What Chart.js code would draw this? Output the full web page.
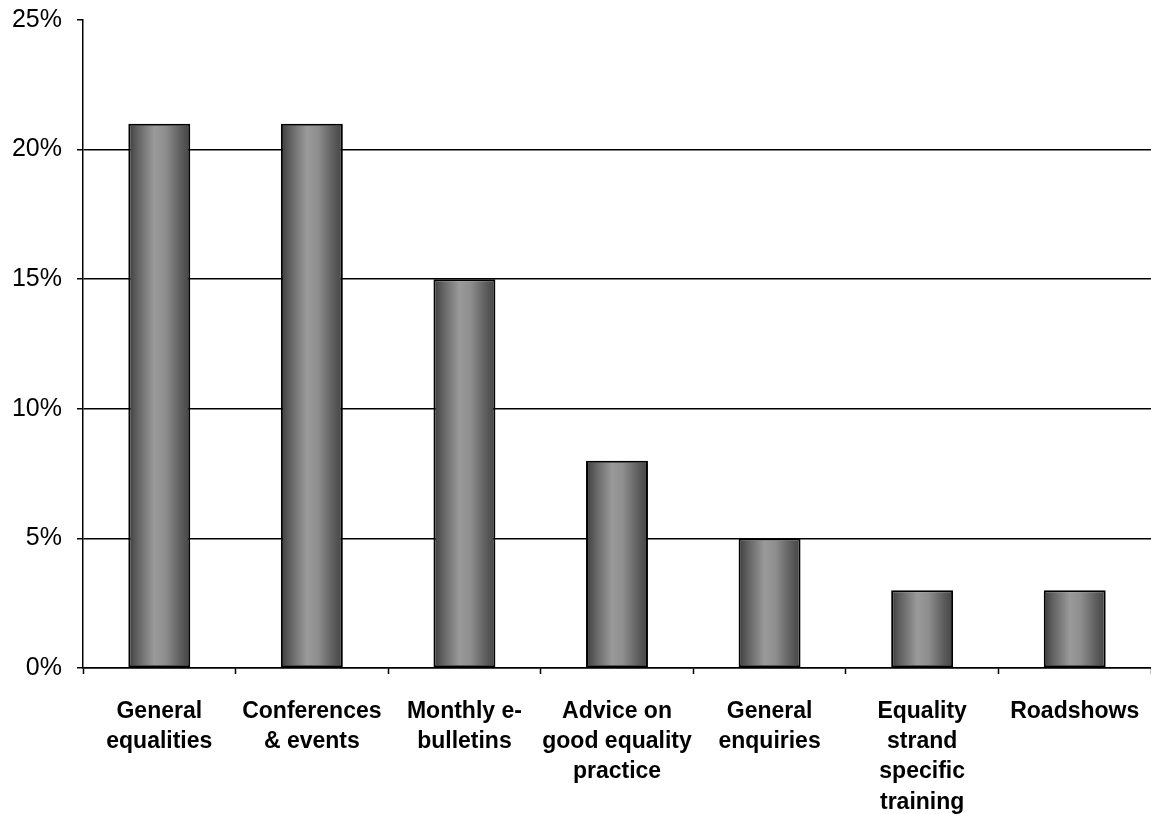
<!DOCTYPE html>
<html>
<head>
<meta charset="utf-8">
<script src="https://cdn.jsdelivr.net/npm/chart.js@4/dist/chart.umd.min.js"></script>
<style>
  html, body { margin: 0; padding: 0; background: #fff; }
  #wrap { width: 1151px; height: 814px; }
</style>
</head>
<body>
<div id="wrap"><canvas id="c" width="1151" height="814"></canvas></div>
<script>
// Share of respondents by preferred service
const categories = [
  ['General', 'equalities'],
  ['Conferences', '& events'],
  ['Monthly e-', 'bulletins'],
  ['Advice on', 'good equality', 'practice'],
  ['General', 'enquiries'],
  ['Equality', 'strand', 'specific', 'training'],
  ['Roadshows']
];
const shares = [21, 21, 15, 8, 5, 3, 3];
const yTicks = [0, 5, 10, 15, 20, 25];

const BAR_FRACTION = 0.406;

// Cylinder-like horizontal shading for each bar
function barShade(ctx) {
  const chart = ctx.chart;
  const xs = chart.scales && chart.scales.x;
  if (!xs || xs.width === undefined || ctx.dataIndex === undefined) return '#777';
  const cx = xs.getPixelForValue(ctx.dataIndex);
  const w = (xs.width / categories.length) * BAR_FRACTION;
  const g = chart.ctx.createLinearGradient(cx - w / 2, 0, cx + w / 2, 0);
  g.addColorStop(0, '#3c3c3c');
  g.addColorStop(0.15, '#626262');
  g.addColorStop(0.42, '#9a9a9a');
  g.addColorStop(0.6, '#8e8e8e');
  g.addColorStop(0.85, '#5c5c5c');
  g.addColorStop(1, '#444444');
  return g;
}

new Chart(document.getElementById('c'), {
  type: 'bar',
  data: {
    labels: categories,
    datasets: [{
      data: shares,
      backgroundColor: barShade,
      borderColor: '#000',
      borderWidth: 2,
      borderSkipped: false,
      categoryPercentage: 1,
      barPercentage: BAR_FRACTION
    }]
  },
  options: {
    responsive: false,
    animation: false,
    layout: { padding: { top: 20, right: 0, left: 0, bottom: 0 } },
    plugins: { legend: { display: false }, tooltip: { enabled: false } },
    scales: {
      x: {
        grid: {
          offset: true,
          drawOnChartArea: false,
          drawTicks: true,
          tickLength: 6,
          tickColor: '#000',
          tickWidth: 1.5
        },
        border: { color: '#000', width: 1.5 },
        ticks: {
          color: '#000',
          padding: 22,
          maxRotation: 0,
          autoSkip: false,
          font: { family: 'Liberation Sans, Arial, sans-serif', size: 23, weight: 'bold', lineHeight: 1.32 }
        },
        afterFit: (s) => {
          s.height = 146;
          s.paddingLeft = 0;
          s.paddingRight = 0;
        }
      },
      y: {
        min: 0,
        max: 25,
        afterBuildTicks: (s) => { s.ticks = yTicks.map(v => ({ value: v })); },
        grid: {
          color: (c) => (c.tick && c.tick.value === 25 ? 'rgba(0,0,0,0)' : '#000'),
          lineWidth: 1.5,
          drawTicks: true,
          tickLength: 6,
          tickColor: '#000',
          tickWidth: 1.5
        },
        border: { color: '#000', width: 1.5 },
        ticks: {
          color: '#000',
          padding: 15,
          callback: (v) => v + '%',
          font: { family: 'Liberation Sans, Arial, sans-serif', size: 25 }
        },
        afterFit: (s) => {
          s.width = 83;
          s.paddingTop = 0;
          s.paddingBottom = 0;
        }
      }
    }
  }
});
</script>
</body>
</html>
